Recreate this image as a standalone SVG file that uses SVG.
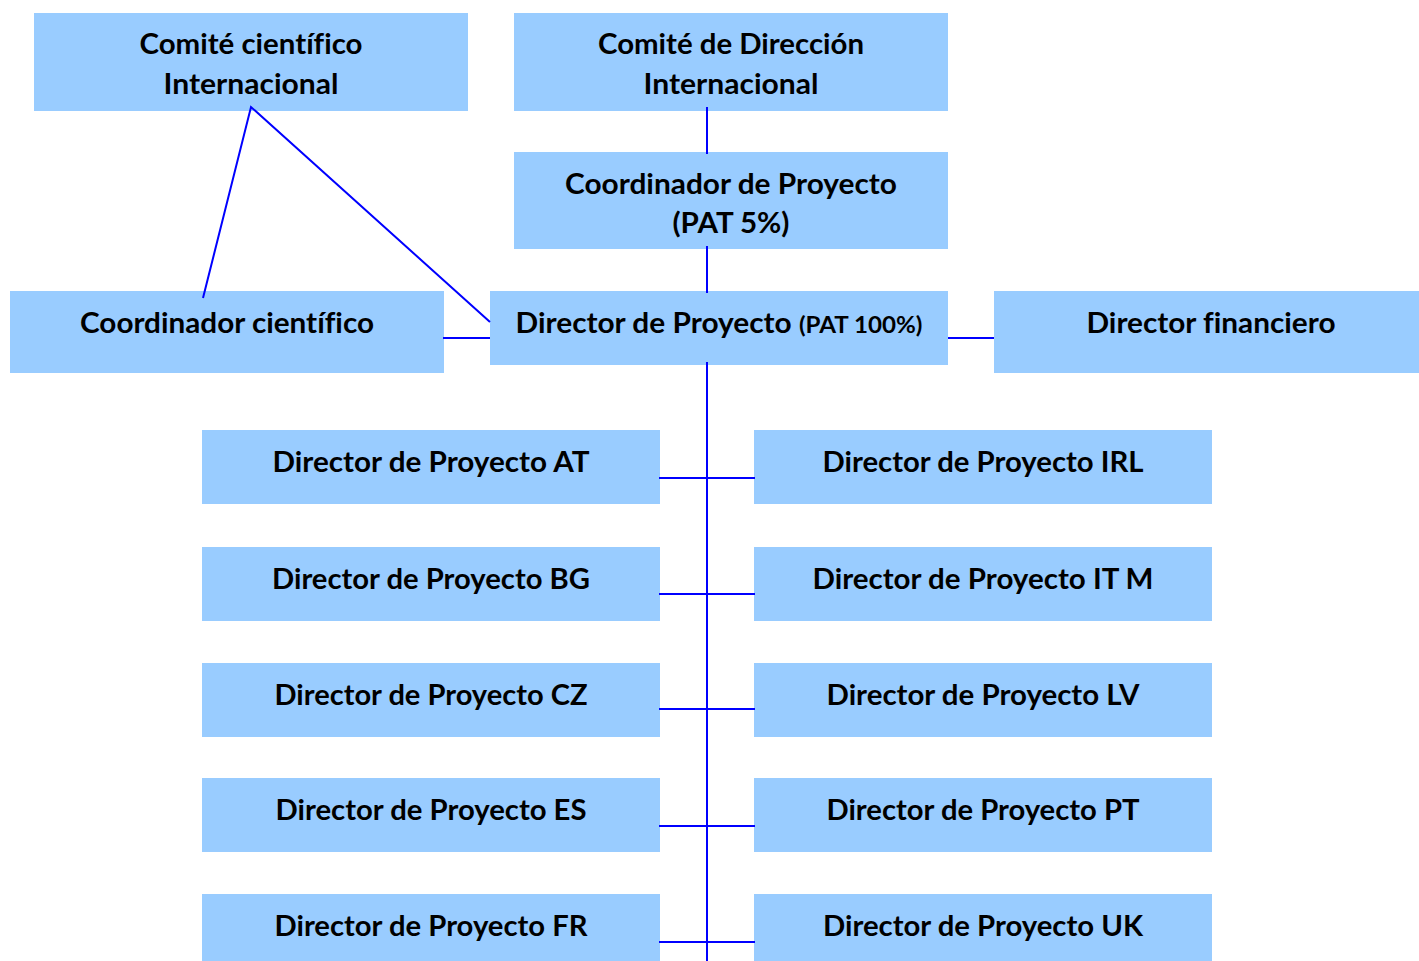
<svg xmlns="http://www.w3.org/2000/svg" width="1419" height="961" viewBox="0 0 1419 961">
<style>
.box{fill:#99CCFF;}
.t{font-family:Lato,"Open Sans","Liberation Sans",sans-serif;font-weight:bold;font-size:29px;fill:#000;text-anchor:middle;font-variant-ligatures:none;font-feature-settings:"liga" 0;}
.s{font-size:23.5px;}
.c{stroke:#0000FF;stroke-width:2;fill:none;}
</style>
<rect width="1419" height="961" fill="#FFFFFF"/>
<g id="comite-cientifico"><rect class="box" x="34" y="13" width="434" height="98"/>
<text class="t" x="251" y="54" textLength="223" lengthAdjust="spacingAndGlyphs">Comité científico</text>
<text class="t" x="251" y="94" textLength="175" lengthAdjust="spacingAndGlyphs">Internacional</text></g>
<g id="comite-direccion"><rect class="box" x="514" y="13" width="434" height="98"/>
<text class="t" x="731" y="54" textLength="266" lengthAdjust="spacingAndGlyphs">Comité de Dirección</text>
<text class="t" x="731" y="94" textLength="175" lengthAdjust="spacingAndGlyphs">Internacional</text></g>
<g id="coordinador-proyecto"><rect class="box" x="514" y="152" width="434" height="97"/>
<text class="t" x="731" y="194" textLength="332" lengthAdjust="spacingAndGlyphs">Coordinador de Proyecto</text>
<text class="t" x="731" y="233" textLength="117" lengthAdjust="spacingAndGlyphs">(PAT 5%)</text></g>
<g id="coordinador-cientifico"><rect class="box" x="10" y="291" width="434" height="82"/>
<text class="t" x="227" y="333" textLength="294" lengthAdjust="spacingAndGlyphs">Coordinador científico</text></g>
<g id="director-proyecto"><rect class="box" x="490" y="291" width="458" height="74"/>
<text class="t" x="719" y="333" textLength="407" lengthAdjust="spacingAndGlyphs">Director de Proyecto <tspan class="s">(PAT 100%)</tspan></text></g>
<g id="director-financiero"><rect class="box" x="994" y="291" width="425" height="82"/>
<text class="t" x="1211" y="333" textLength="249" lengthAdjust="spacingAndGlyphs">Director financiero</text></g>
<g id="dp-at"><rect class="box" x="202" y="430" width="458" height="74"/>
<text class="t" x="431" y="472" textLength="317" lengthAdjust="spacingAndGlyphs">Director de Proyecto AT</text></g>
<g id="dp-bg"><rect class="box" x="202" y="547" width="458" height="74"/>
<text class="t" x="431" y="589" textLength="318" lengthAdjust="spacingAndGlyphs">Director de Proyecto BG</text></g>
<g id="dp-cz"><rect class="box" x="202" y="663" width="458" height="74"/>
<text class="t" x="431" y="705" textLength="313" lengthAdjust="spacingAndGlyphs">Director de Proyecto CZ</text></g>
<g id="dp-es"><rect class="box" x="202" y="778" width="458" height="74"/>
<text class="t" x="431" y="820" textLength="311" lengthAdjust="spacingAndGlyphs">Director de Proyecto ES</text></g>
<g id="dp-fr"><rect class="box" x="202" y="894" width="458" height="67"/>
<text class="t" x="431" y="936" textLength="313" lengthAdjust="spacingAndGlyphs">Director de Proyecto FR</text></g>
<g id="dp-irl"><rect class="box" x="754" y="430" width="458" height="74"/>
<text class="t" x="983" y="472" textLength="321" lengthAdjust="spacingAndGlyphs">Director de Proyecto IRL</text></g>
<g id="dp-itm"><rect class="box" x="754" y="547" width="458" height="74"/>
<text class="t" x="983" y="589" textLength="341" lengthAdjust="spacingAndGlyphs">Director de Proyecto IT M</text></g>
<g id="dp-lv"><rect class="box" x="754" y="663" width="458" height="74"/>
<text class="t" x="983" y="705" textLength="313" lengthAdjust="spacingAndGlyphs">Director de Proyecto LV</text></g>
<g id="dp-pt"><rect class="box" x="754" y="778" width="458" height="74"/>
<text class="t" x="983" y="820" textLength="313" lengthAdjust="spacingAndGlyphs">Director de Proyecto PT</text></g>
<g id="dp-uk"><rect class="box" x="754" y="894" width="458" height="67"/>
<text class="t" x="983" y="936" textLength="320" lengthAdjust="spacingAndGlyphs">Director de Proyecto UK</text></g>
<g id="connectors">
<line class="c" x1="707" y1="107" x2="707" y2="154"/>
<line class="c" x1="707" y1="246" x2="707" y2="293"/>
<line class="c" x1="707" y1="362" x2="707" y2="961"/>
<polyline class="c" points="203,298 251,107 490,322"/>
<line class="c" x1="443" y1="338" x2="490" y2="338"/>
<line class="c" x1="948" y1="338" x2="994" y2="338"/>
<line class="c" x1="659" y1="478" x2="755" y2="478"/>
<line class="c" x1="659" y1="594" x2="755" y2="594"/>
<line class="c" x1="659" y1="709" x2="755" y2="709"/>
<line class="c" x1="659" y1="826" x2="755" y2="826"/>
<line class="c" x1="659" y1="942" x2="755" y2="942"/>
</g>
</svg>
